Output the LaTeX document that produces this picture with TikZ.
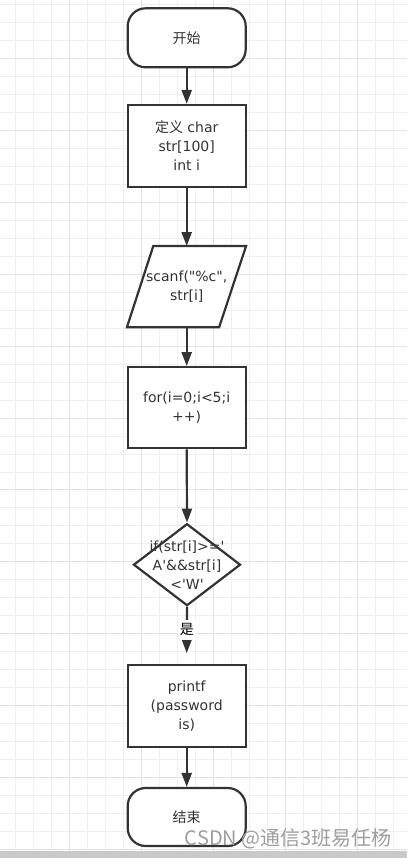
\documentclass[tikz,border=0pt]{standalone}
\usepackage{fontspec}
\setmainfont{DejaVu Sans}[Ligatures=TeXOff]
\newfontfamily\cjk{Noto Sans CJK SC}
\usetikzlibrary{arrows.meta,shapes.geometric}
\definecolor{ink}{HTML}{333333}
\definecolor{gridminor}{HTML}{EFEFEF}
\definecolor{gridmajor}{HTML}{E2E2E2}
\definecolor{barcol}{HTML}{C9C9C9}
\newcommand\flowfont{\fontsize{14}{19}\selectfont}
\begin{document}
\begin{tikzpicture}[x=1pt,y=-1pt,
  shapeline/.style={draw=ink, line width=2.2pt, fill=white},
  term/.style={shapeline, rounded corners=18pt, minimum width=118pt, inner sep=0pt, text=ink, font=\flowfont},
  proc/.style={shapeline, minimum width=118pt, minimum height=82pt, inner sep=0pt, align=center, text=ink, font=\flowfont},
  dia/.style={diamond, shapeline, minimum width=107pt, minimum height=82pt, inner sep=0pt},
  txt/.style={align=center, text=ink, inner sep=0pt, font=\flowfont},
  arr/.style={draw=ink, line width=2.2pt, -{Triangle[length=14pt,width=10pt]}},
  lbl/.style={fill=white, inner xsep=2pt, inner ysep=4pt, text=black, font=\cjk\flowfont},
  minorline/.style={draw=gridminor, line width=1pt},
  majorline/.style={draw=gridmajor, line width=1pt}]
\useasboundingbox (0,0) rectangle (407,858);
\fill[white] (0,0) rectangle (407,858);
% grid
\foreach \k in {-3,...,18} {\draw[minorline] ({69.3+18.02*\k},0) -- ({69.3+18.02*\k},858);}
\foreach \k in {-3,...,44} {\draw[minorline] (0,{58.7+17.97*\k}) -- (407,{58.7+17.97*\k});}
\foreach \k in {0,4,...,16} {\draw[majorline] ({69.3+18.02*\k},0) -- ({69.3+18.02*\k},858);}
\foreach \k in {0,4,...,44} {\draw[majorline] (0,{58.7+17.97*\k}) -- (407,{58.7+17.97*\k});}

% shapes
\node[term, minimum height=59pt] (start) at (186.7,37.8) {{\cjk 开始}};
\node[proc] (def) at (186.7,146) {{\cjk 定义} char\\str[100]\\int i};
\path[shapeline] (153.3,246) -- (246.1,246) -- (219.1,327.3) -- (126.9,327.3) -- cycle;
\node[txt, minimum height=81.3pt, minimum width=80pt, outer sep=0pt] (io) at (186.7,286.7) {scanf("\%c",\\str[i]};
\node[proc, minimum height=81pt] (for) at (186.7,407.7) {for(i=0;i<5;i\\++)};
\node[dia] (d) at (187,564.7) {};
\node[txt] (dtext) at (187,565) {if(str[i]>='\\A'\&\&str[i]\\<'W'};
\node[proc] (pr) at (186.7,706.2) {printf\\(password\\is)};
\node[term, minimum height=58pt] (end) at (186.7,817) {{\cjk 结束}};

% connectors
\draw[arr] (start.south) -- (def.north);
\draw[arr] (def.south) -- (io.north);
\draw[arr] (io.south) -- (for.north);
\draw[arr] (for.south) -- (d.north);
\draw[arr] (d.south) -- node[lbl, midway] {是} ([yshift=11pt]pr.north);
\draw[arr] (pr.south) -- (end.north);

% watermark and bottom bar
\node[anchor=east, text=black!38, font=\cjk\fontsize{20}{20}\selectfont, inner sep=0pt] (wm) at (392,839) {CSDN @通信3班易任杨};
\fill[barcol] (0,850.7) rectangle (407,858);
\end{tikzpicture}
\end{document}
